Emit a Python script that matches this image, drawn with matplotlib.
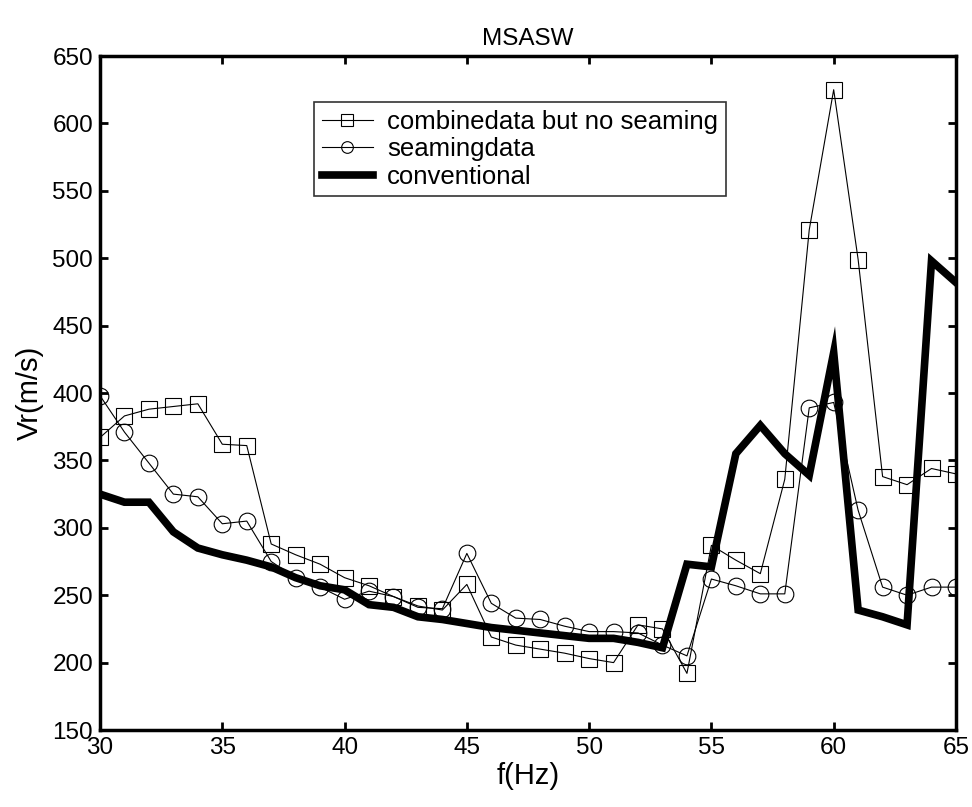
import numpy as np
import matplotlib
matplotlib.use("Agg")
import matplotlib.pyplot as plt

# frequency axis (Hz)
freq = list(range(30, 66))

# combinedata but no seaming
combined = [367, 383, 388, 390, 392, 362, 361, 288, 280, 273,
            263, 257, 249, 242, 239, 258, 219, 213, 210, 207,
            203, 200, 228, 225, 192, 287, 276, 266, 336, 521,
            625, 499, 338, 332, 344, 340]

# seamingdata
seaming = [398, 371, 348, 325, 323, 303, 305, 275, 263, 256,
           247, 253, 249, 241, 240, 281, 244, 233, 232, 227,
           223, 223, 222, 213, 205, 262, 257, 251, 251, 389,
           393, 313, 256, 250, 256, 256]

# conventional
conventional = [325, 319, 319, 297, 285, 280, 276, 271, 263, 257,
                254, 243, 241, 234, 232, 229, 226, 224, 222, 220,
                218, 218, 215, 211, 273, 271, 355, 376, 355, 339,
                430, 239, 234, 228, 498, 482]

xticks = [30, 35, 40, 45, 50, 55, 60, 65]
yticks = [150, 200, 250, 300, 350, 400, 450, 500, 550, 600, 650]

plt.rcParams['font.family'] = ['Liberation Sans', 'DejaVu Sans']

fig = plt.figure(figsize=(9.72, 8.07), dpi=100)
ax = fig.add_axes([0.1029, 0.0954, 0.8806, 0.8352])

ax.plot(freq, combined, color='black', linewidth=0.8, marker='s',
        markersize=11.5, markerfacecolor='none', markeredgewidth=0.8,
        label='combinedata but no seaming')
ax.plot(freq, seaming, color='black', linewidth=0.8, marker='o',
        markersize=12, markerfacecolor='none', markeredgewidth=0.8,
        label='seamingdata')
ax.plot(freq, conventional, color='black', linewidth=5.5,
        solid_joinstyle='miter', label='conventional')

ax.set_xlim(30, 65)
ax.set_ylim(150, 650)
ax.set_xticks(xticks)
ax.set_yticks(yticks)
ax.tick_params(direction='in', length=6, width=2, top=True, right=True,
               labelsize=17.5, pad=5)
for s in ax.spines.values():
    s.set_linewidth(2.5)

ax.set_title('MSASW', fontsize=17.5, pad=8)
ax.set_xlabel('f(Hz)', fontsize=21, labelpad=2)
ax.set_ylabel('Vr(m/s)', fontsize=21, labelpad=6)

leg = ax.legend(loc='upper left', bbox_to_anchor=(0.25, 0.932), fontsize=18.5,
                frameon=True, fancybox=False, edgecolor='black',
                handlelength=2.0, handletextpad=0.55, borderpad=0.3,
                labelspacing=0.14, markerscale=0.7, borderaxespad=0)
leg.get_frame().set_linewidth(1.2)

fig.savefig('out.png', dpi=100)
